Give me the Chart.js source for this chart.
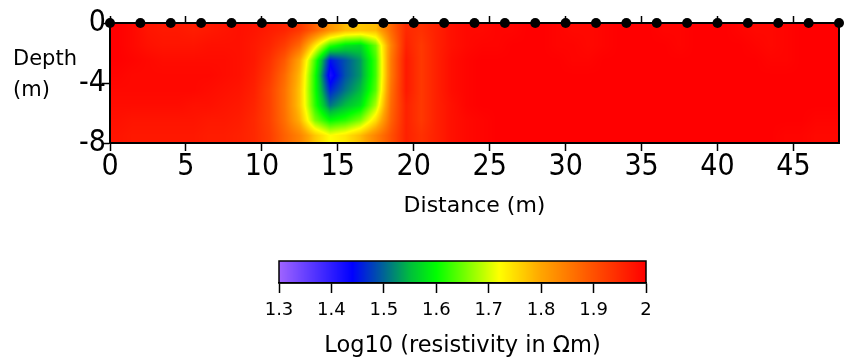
<!DOCTYPE html>
<html>
<head>
<meta charset="utf-8">
<script src="https://cdn.jsdelivr.net/npm/chart.js@4.4.1/dist/chart.umd.min.js"></script>
<style>
  html, body { margin: 0; padding: 0; background: #fff; }
  #wrap { position: relative; width: 844px; height: 363px; overflow: hidden; }
  canvas { position: absolute; left: 0; }
</style>
</head>
<body>
<div id="wrap">
  <canvas id="section" width="844" height="240" style="top:0"></canvas>
  <canvas id="scale" width="844" height="123" style="top:240px"></canvas>
</div>
<script>
// electrode positions (m) along the surface
const electrodeX = [0, 2, 4, 6, 8, 10, 12, 14, 16, 18, 20, 22, 24, 26, 28, 30, 32, 34, 36, 38, 40, 42, 44, 46, 48]

// model cell centres
const distCenters = [0.5, 1.5, 2.5, 3.5, 4.5, 5.5, 6.5, 7.5, 8.5, 9.5, 10.5, 11.5, 12.5, 13.5, 14.5, 15.5,
  16.5, 17.5, 18.5, 19.5, 20.5, 21.5, 22.5, 23.5, 24.5, 25.5, 26.5, 27.5, 28.5, 29.5, 30.5, 31.5,
  32.5, 33.5, 34.5, 35.5, 36.5, 37.5, 38.5, 39.5, 40.5, 41.5, 42.5, 43.5, 44.5, 45.5, 46.5, 47.5]
const depthCenters = [0.5, 1.5, 2.5, 3.5, 4.5, 5.5, 6.5, 7.5]

// log10 resistivity, one row per depth
const row05 = [2.0,1.99,1.975,1.97,1.97,1.965,1.97,1.975,1.98,1.975, 1.965,1.955,1.93,1.88,1.82,1.78,1.77,1.78,1.87,1.95, 1.94,1.96,1.98,1.99,1.99,1.995,1.995,2.0,2.0,1.995, 1.99,1.99,1.995,2.0,2.0,2.0,1.995,1.995,2.0,2.0, 2.0,1.995,1.99,1.99,1.995,2.0,2.0,2.0]
const row15 = [2.0,1.99,1.98,1.975,1.975,1.975,1.98,1.98,1.98,1.97, 1.955,1.925,1.87,1.74,1.62,1.58,1.57,1.65,1.84,1.96, 1.93,1.96,1.98,1.99,1.995,1.995,2.0,2.0,2.0,1.995, 1.995,1.99,1.995,2.0,2.0,2.0,2.0,1.995,2.0,2.0, 2.0,2.0,1.995,1.99,1.995,2.0,2.0,2.0]
const row25 = [2.0,1.995,1.99,1.985,1.985,1.985,1.985,1.985,1.98,1.97, 1.94,1.89,1.8,1.63,1.45,1.49,1.53,1.63,1.85,1.97, 1.93,1.96,1.985,1.995,2.0,2.0,2.0,2.0,2.0,2.0, 1.995,1.995,2.0,2.0,2.0,2.0,2.0,2.0,2.0,2.0, 2.0,2.0,2.0,1.995,1.995,2.0,2.0,2.0]
const row35 = [1.995,1.99,1.99,1.99,1.99,1.99,1.99,1.985,1.98,1.965, 1.93,1.87,1.78,1.61,1.42,1.49,1.53,1.63,1.85,1.97, 1.93,1.96,1.985,1.995,2.0,2.0,2.0,2.0,2.0,2.0, 2.0,2.0,2.0,2.0,2.0,2.0,2.0,2.0,2.0,2.0, 2.0,2.0,2.0,2.0,2.0,2.0,2.0,2.0]
const row45 = [1.99,1.99,1.99,1.99,1.99,1.99,1.985,1.98,1.975,1.96, 1.92,1.86,1.77,1.61,1.46,1.51,1.55,1.64,1.86,1.97, 1.93,1.96,1.985,1.995,2.0,2.0,2.0,2.0,2.0,2.0, 2.0,2.0,2.0,2.0,2.0,2.0,2.0,2.0,2.0,2.0, 2.0,2.0,2.0,2.0,2.0,2.0,2.0,2.0]
const row55 = [1.985,1.985,1.985,1.985,1.985,1.98,1.98,1.975,1.97,1.955, 1.92,1.86,1.77,1.62,1.51,1.55,1.58,1.68,1.87,1.96, 1.93,1.96,1.98,1.995,2.0,2.0,2.0,2.0,2.0,2.0, 2.0,2.0,2.0,2.0,2.0,2.0,2.0,2.0,2.0,2.0, 2.0,2.0,2.0,2.0,2.0,2.0,2.0,2.0]
const row65 = [1.98,1.975,1.975,1.975,1.975,1.975,1.97,1.97,1.965,1.95, 1.92,1.865,1.79,1.66,1.6,1.62,1.66,1.75,1.88,1.96, 1.93,1.96,1.98,1.99,1.995,2.0,2.0,2.0,2.0,2.0, 2.0,2.0,2.0,2.0,2.0,2.0,2.0,2.0,2.0,2.0, 2.0,2.0,2.0,2.0,2.0,2.0,1.995,1.995]
const row75 = [1.975,1.97,1.97,1.97,1.97,1.97,1.965,1.965,1.96,1.95, 1.925,1.88,1.84,1.77,1.72,1.74,1.78,1.84,1.9,1.96, 1.94,1.96,1.98,1.99,1.995,2.0,2.0,2.0,2.0,2.0, 2.0,2.0,2.0,2.0,2.0,2.0,2.0,2.0,2.0,2.0, 2.0,2.0,2.0,2.0,1.995,1.995,1.99,1.99]
const resRows = [row05, row15, row25, row35, row45, row55, row65, row75]

// tick labels
const xTicks = [0, 5, 10, 15, 20, 25, 30, 35, 40, 45]
const yTicks = [-8, -6, -4, -2, 0]
const yLabelled = [-8, -4, 0]
const barTicks = [1.3, 1.4, 1.5, 1.6, 1.7, 1.8, 1.9, 2.0]

// colour scale stops
const stopVals = [1.3, 1.44, 1.5, 1.55, 1.6, 1.72, 1.8, 1.9, 2.0]
const stopCols = [[160, 100, 255], [0, 0, 255], [0, 100, 150], [0, 190, 60], [0, 255, 0],
  [255, 255, 0], [255, 165, 0], [255, 80, 0], [255, 0, 0]]

const NUM_FONT = '"DejaVu Sans Condensed", "DejaVu Sans", sans-serif'
const TEXT_FONT = '"DejaVu Sans", sans-serif'

function colorFor(v) {
  if (v <= stopVals[0]) return stopCols[0]
  for (let i = 1; i < stopVals.length; i++) {
    if (v <= stopVals[i]) {
      const t = (v - stopVals[i - 1]) / (stopVals[i] - stopVals[i - 1])
      const a = stopCols[i - 1], b = stopCols[i]
      return [a[0] + (b[0] - a[0]) * t, a[1] + (b[1] - a[1]) * t, a[2] + (b[2] - a[2]) * t]
    }
  }
  return stopCols[stopCols.length - 1]
}

function locate(arr, v) {
  if (v <= arr[0]) return [0, 0, 0]
  const n = arr.length - 1
  if (v >= arr[n]) return [n, n, 0]
  let i = 0
  while (arr[i + 1] < v) i++
  return [i, i + 1, (v - arr[i]) / (arr[i + 1] - arr[i])]
}

function sample(dist, depth) {
  const [c0, c1, tx] = locate(distCenters, dist)
  const [r0, r1, ty] = locate(depthCenters, depth)
  const top = resRows[r0][c0] * (1 - tx) + resRows[r0][c1] * tx
  const bot = resRows[r1][c0] * (1 - tx) + resRows[r1][c1] * tx
  return top * (1 - ty) + bot * ty
}

const heatmap = {
  id: 'heatmap',
  beforeDraw(chart) {
    const { ctx, chartArea: a } = chart
    const x = chart.scales.x, y = chart.scales.y
    const w = Math.round(a.right - a.left), h = Math.round(a.bottom - a.top)
    const off = document.createElement('canvas')
    off.width = w; off.height = h
    const octx = off.getContext('2d')
    const img = octx.createImageData(w, h)
    for (let j = 0; j < h; j++) {
      const depth = -y.getValueForPixel(a.top + j + 0.5)
      for (let i = 0; i < w; i++) {
        const c = colorFor(sample(x.getValueForPixel(a.left + i + 0.5), depth))
        const k = (j * w + i) * 4
        img.data[k] = c[0]; img.data[k + 1] = c[1]; img.data[k + 2] = c[2]; img.data[k + 3] = 255
      }
    }
    octx.putImageData(img, 0, 0)
    ctx.drawImage(off, a.left, a.top)
  },
  afterDraw(chart) {
    const ctx = chart.ctx
    ctx.save()
    ctx.fillStyle = '#000'
    ctx.font = '21px ' + TEXT_FONT
    ctx.textBaseline = 'alphabetic'
    ctx.fillText('Depth', 13, 65)
    ctx.fillText('(m)', 13, 96)
    ctx.restore()
  }
}

const tickFont = { family: NUM_FONT, size: 30 }
const setTicks = vals => s => { s.ticks = vals.map(v => ({ value: v })) }

new Chart(document.getElementById('section'), {
  type: 'scatter',
  data: {
    datasets: [{
      data: electrodeX.map(v => ({ x: v, y: 0 })),
      pointRadius: 5,
      pointBackgroundColor: '#000',
      pointBorderWidth: 0,
      clip: false
    }]
  },
  options: {
    responsive: false,
    animation: false,
    events: [],
    layout: { padding: { left: 0, right: 1, top: 0, bottom: 0 } },
    plugins: { legend: { display: false }, tooltip: { enabled: false } },
    scales: {
      x: {
        type: 'linear', position: 'bottom', min: 0, max: 48,
        afterBuildTicks: setTicks(xTicks),
        afterFit: s => { s.height = 97 },
        ticks: { font: tickFont, color: '#000', padding: -2, autoSkip: false, maxRotation: 0 },
        grid: { drawOnChartArea: false, tickLength: 8, tickColor: '#000', tickWidth: 1.5 },
        border: { color: '#000', width: 2 },
        title: { display: true, text: 'Distance (m)', color: '#000', font: { family: TEXT_FONT, size: 22 }, padding: { top: 0, bottom: 21 } }
      },
      xTop: {
        type: 'linear', position: 'top', min: 0, max: 48,
        afterBuildTicks: setTicks(xTicks),
        afterFit: s => { s.height = 23 },
        ticks: { display: false },
        grid: { drawOnChartArea: false, tickLength: 7, tickColor: '#000', tickWidth: 1.5 },
        border: { color: '#000', width: 2 }
      },
      y: {
        type: 'linear', position: 'left', min: -8, max: 0,
        afterBuildTicks: setTicks(yTicks),
        afterFit: s => { s.width = 110 },
        ticks: {
          font: tickFont, color: '#000', padding: -4,
          callback: v => yLabelled.includes(v) ? String(v) : ''
        },
        grid: { drawOnChartArea: false, tickLength: 8, tickColor: '#000', tickWidth: 1.5 },
        border: { color: '#000', width: 2 }
      },
      yRight: {
        type: 'linear', position: 'right', min: -8, max: 0,
        afterFit: s => { s.width = 0 },
        ticks: { display: false },
        grid: { display: false },
        border: { color: '#000', width: 2 }
      }
    }
  },
  plugins: [heatmap]
})

const colorBar = {
  id: 'colorBar',
  beforeDraw(chart) {
    const { ctx, chartArea: a } = chart
    const x = chart.scales.x
    for (let px = Math.floor(a.left); px < a.right; px++) {
      const c = colorFor(x.getValueForPixel(px + 0.5))
      ctx.fillStyle = 'rgb(' + c.map(Math.round).join(',') + ')'
      ctx.fillRect(px, a.top, 1, a.bottom - a.top)
    }
    ctx.save()
    ctx.strokeStyle = '#000'
    ctx.lineWidth = 1.5
    ctx.strokeRect(a.left, a.top, a.right - a.left, a.bottom - a.top)
    ctx.restore()
  }
}

new Chart(document.getElementById('scale'), {
  type: 'scatter',
  data: { datasets: [] },
  options: {
    responsive: false,
    animation: false,
    events: [],
    layout: { padding: { left: 279, right: 198, top: 21, bottom: 0 } },
    plugins: { legend: { display: false }, tooltip: { enabled: false } },
    scales: {
      x: {
        type: 'linear', position: 'bottom', min: 1.3, max: 2.0,
        afterBuildTicks: setTicks(barTicks),
        afterFit: s => { s.height = 80 },
        ticks: {
          font: { family: TEXT_FONT, size: 18 }, color: '#000', padding: 7, autoSkip: false, maxRotation: 0,
          callback: v => String(Number(v.toFixed(1)))
        },
        grid: { drawOnChartArea: false, tickLength: 10, tickColor: '#000', tickWidth: 1.5 },
        border: { color: '#000', width: 1.5 },
        title: { display: true, text: 'Log10 (resistivity in Ωm)', color: '#000', font: { family: TEXT_FONT, size: 22.5 }, padding: { top: 0, bottom: 3 } }
      },
      y: { display: false, min: 0, max: 1 }
    }
  },
  plugins: [colorBar]
})
</script>
</body>
</html>
